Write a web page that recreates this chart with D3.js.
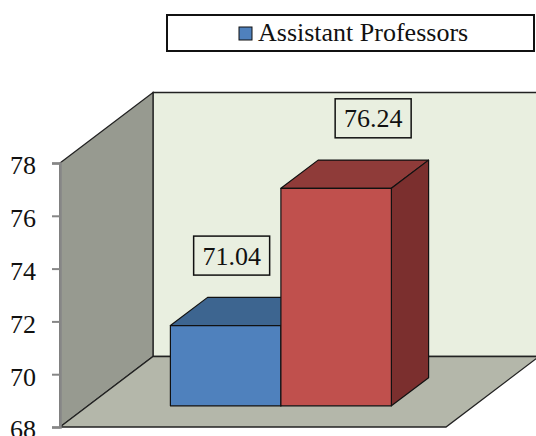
<!DOCTYPE html>
<html>
<head>
<meta charset="utf-8">
<script src="https://cdn.jsdelivr.net/npm/d3@7"></script>
<style>
  body { margin: 0; background: #fff; }
</style>
</head>
<body>
<script>
// 3D column chart, one legend entry, two columns

var barKeys = ["a", "b"];
var barValues = [71.04, 76.24];
var legendLabels = ["Assistant Professors"];
var yTicks = [68, 70, 72, 74, 76, 78];

var serif = "'Liberation Serif', Tinos, 'Times New Roman', Times, 'DejaVu Serif', serif";

function init() {
    var w = 536;
    var h = 436;

    // front plane of the plot and the depth vector of the box
    var left = 60, right = 446;
    var depthX = 93, depthY = -70.5;
    var barT0 = 0.3, barT1 = 0.7;

    var svg = d3.select("body")
                .append("svg")
                .attr("width", w)
                .attr("height", h)
                .style("font-family", serif);

    var yScale = d3.scaleLinear()
                   .domain([68, 78])
                   .range([427, 163]);

    var xScale = d3.scaleBand()
                   .domain(barKeys)
                   .range([left, right])
                   .paddingInner(0)
                   .paddingOuter(0.7466);

    // point in the box: x on front plane, value, depth fraction t
    function pt(x, v, t) {
        return [x + t * depthX, yScale(v) + t * depthY];
    }
    function poly(points) {
        return points.map(function (p) { return p.join(","); }).join(" ");
    }

    var y0 = yScale.domain()[0], y1 = yScale.domain()[1];

    // back wall
    svg.append("polygon")
        .attr("points", poly([pt(left, y1, 1), pt(right, y1, 1), pt(right, y0, 1), pt(left, y0, 1)]))
        .attr("fill", "#e9efe0")
        .attr("stroke", "#222")
        .attr("stroke-width", 1.3);

    // side wall
    svg.append("polygon")
        .attr("points", poly([pt(left, y1, 0), pt(left, y1, 1), pt(left, y0, 1), pt(left, y0, 0)]))
        .attr("fill", "#979a90")
        .attr("stroke", "#222")
        .attr("stroke-width", 1.3);

    // floor
    svg.append("polygon")
        .attr("points", poly([pt(left, y0, 0), pt(right, y0, 0), pt(right, y0, 1), pt(left, y0, 1)]))
        .attr("fill", "#b4b7aa")
        .attr("stroke", "#222")
        .attr("stroke-width", 1.3);

    var fronts = ["#4f81bd", "#c0504d"];
    var tops = ["#3d6590", "#8f3b39"];
    var sides = ["#365a80", "#7b2f2e"];

    // bars, drawn left to right so the red one covers the blue side
    barKeys.forEach(function (k, i) {
        var x0 = xScale(k), x1 = x0 + xScale.bandwidth();
        var v = barValues[i];
        var g = svg.append("g").attr("stroke", "#111").attr("stroke-width", 1.2).attr("stroke-linejoin", "round");

        g.append("polygon")
            .attr("points", poly([pt(x0, v, barT0), pt(x1, v, barT0), pt(x1, v, barT1), pt(x0, v, barT1)]))
            .attr("fill", tops[i]);
        g.append("polygon")
            .attr("points", poly([pt(x1, v, barT0), pt(x1, v, barT1), pt(x1, y0, barT1), pt(x1, y0, barT0)]))
            .attr("fill", sides[i]);
        g.append("polygon")
            .attr("points", poly([pt(x0, v, barT0), pt(x1, v, barT0), pt(x1, y0, barT0), pt(x0, y0, barT0)]))
            .attr("fill", fronts[i]);
    });

    // value labels in boxes
    var labelNudge = [6, 37];
    barKeys.forEach(function (k, i) {
        var top = pt(xScale(k) + xScale.bandwidth() / 2, barValues[i], barT0);
        var cx = top[0] + labelNudge[i];
        var cy = top[1] - 70;
        svg.append("rect")
            .attr("x", cx - 38)
            .attr("y", cy - 19.5)
            .attr("width", 76)
            .attr("height", 39)
            .attr("fill", "#e9efe0")
            .attr("stroke", "#111")
            .attr("stroke-width", 1.5);
        svg.append("text")
            .attr("x", cx)
            .attr("y", cy + 9)
            .attr("text-anchor", "middle")
            .attr("font-size", "26px")
            .attr("fill", "#111")
            .style("font-family", serif)
            .text(barValues[i].toFixed(2));
    });

    // y axis on the front left edge
    var yAxis = d3.axisLeft(yScale)
                  .tickValues(yTicks)
                  .tickSize(8)
                  .tickPadding(16)
                  .tickFormat(d3.format("d"));

    var ax = svg.append("g")
        .attr("class", "y axis")
        .attr("transform", "translate(" + left + ",0)")
        .call(yAxis)
        .attr("font-family", null);
    ax.select(".domain").attr("stroke", "#868686").attr("stroke-width", 2.5);
    ax.selectAll(".tick line").attr("stroke", "#868686").attr("stroke-width", 2);
    ax.selectAll(".tick text")
        .style("font-family", serif)
        .attr("font-size", "26px")
        .attr("fill", "#111")
        .attr("dy", "0.42em");

    // legend
    var lg = svg.append("g");
    lg.append("rect")
        .attr("x", 167).attr("y", 15)
        .attr("width", 367).attr("height", 36)
        .attr("fill", "#fff")
        .attr("stroke", "#111")
        .attr("stroke-width", 2);
    lg.append("rect")
        .attr("x", 239).attr("y", 27)
        .attr("width", 13).attr("height", 13)
        .attr("fill", fronts[0])
        .attr("stroke", "#111")
        .attr("stroke-width", 1);
    lg.append("text")
        .attr("x", 258).attr("y", 41)
        .attr("font-size", "26px")
        .attr("fill", "#111")
        .style("font-family", serif)
        .text(legendLabels[0]);
}

window.onload = init;
</script>
</body>
</html>
